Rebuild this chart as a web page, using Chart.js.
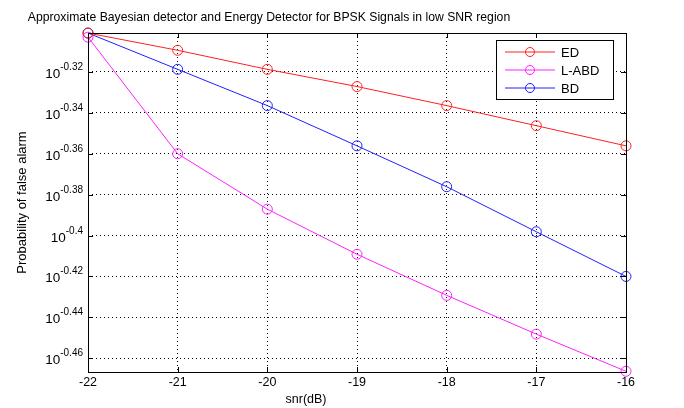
<!DOCTYPE html>
<html>
<head>
<meta charset="utf-8">
<script src="https://cdn.jsdelivr.net/npm/chart.js@4/dist/chart.umd.min.js"></script>
<style>
  html, body { margin: 0; padding: 0; background: #fff; }
  #wrap { width: 684px; height: 408px; }
</style>
</head>
<body>
<div id="wrap"><canvas id="pfaChart" width="684" height="408"></canvas></div>
<script>
// data
var snrDb = [-22, -21, -20, -19, -18, -17, -16];
var edPfa = [0.500, 0.4904, 0.4800, 0.4708, 0.4608, 0.4505, 0.4404];
var labdPfa = [0.4977, 0.4365, 0.4101, 0.3898, 0.3722, 0.3563, 0.3417];
var bdPfa = [0.500, 0.4800, 0.4608, 0.4404, 0.4206, 0.3998, 0.3802];
var yTickExp = [-0.32, -0.34, -0.36, -0.38, -0.4, -0.42, -0.44, -0.46];
var xTicks = [-22, -21, -20, -19, -18, -17, -16];
var seriesNames = ["ED", "L-ABD", "BD"];
var seriesColors = ["#ff2020", "#ff20ff", "#2020ff"];

function toPoints(vals) {
    return vals.map(function (v, i) { return { x: snrDb[i], y: v }; });
}

var FONT = "'Liberation Sans', Arial, sans-serif";

// labels, title, legend and inward ticks in MATLAB style
var matlabDeco = {
    id: "matlabDeco",
    afterDraw: function (chart) {
        var ctx = chart.ctx;
        var a = chart.chartArea;
        var xs = chart.scales.x, ys = chart.scales.y;
        ctx.save();

        // axes box
        ctx.strokeStyle = "#000";
        ctx.lineWidth = 1;
        ctx.strokeRect(Math.round(a.left) + 0.5, Math.round(a.top) + 0.5,
            Math.round(a.right - a.left), Math.round(a.bottom - a.top));

        // inward tick marks
        ctx.beginPath();
        xTicks.forEach(function (t) {
            var px = Math.round(xs.getPixelForValue(t)) + 0.5;
            ctx.moveTo(px, a.bottom); ctx.lineTo(px, a.bottom - 5);
            ctx.moveTo(px, a.top); ctx.lineTo(px, a.top + 5);
        });
        yTickExp.forEach(function (e) {
            var py = Math.round(ys.getPixelForValue(Math.pow(10, e))) + 0.5;
            ctx.moveTo(a.left, py); ctx.lineTo(a.left + 5, py);
            ctx.moveTo(a.right, py); ctx.lineTo(a.right - 5, py);
        });
        ctx.stroke();

        ctx.fillStyle = "#000";
        // x tick labels
        ctx.font = "12.5px " + FONT;
        ctx.textAlign = "center";
        ctx.textBaseline = "middle";
        xTicks.forEach(function (t) {
            ctx.fillText(String(t), xs.getPixelForValue(t), a.bottom + 11);
        });

        // y tick labels 10^e
        yTickExp.forEach(function (e) {
            var py = ys.getPixelForValue(Math.pow(10, e));
            var expTxt = String(e);
            ctx.font = "10px " + FONT;
            var ew = ctx.measureText(expTxt).width;
            ctx.textAlign = "left";
            ctx.textBaseline = "alphabetic";
            var ex = a.left - 5 - ew;
            ctx.fillText(expTxt, ex, py - 2);
            ctx.font = "13.5px " + FONT;
            ctx.textAlign = "right";
            ctx.fillText("10", ex, py + 6);
        });

        // title
        ctx.font = "12.2px " + FONT;
        ctx.textAlign = "center";
        ctx.textBaseline = "middle";
        ctx.fillText("Approximate Bayesian detector and Energy Detector for BPSK Signals in low SNR region", 269, 18);

        // axis titles
        ctx.font = "12.5px " + FONT;
        ctx.fillText("snr(dB)", 306, 400);
        ctx.save();
        ctx.translate(22, (a.top + a.bottom) / 2);
        ctx.rotate(-Math.PI / 2);
        ctx.font = "13px " + FONT;
        ctx.fillText("Probability of false alarm", 0, 0);
        ctx.restore();

        // legend box
        var lx = 496, ly = 40, lw = 117, lh = 59;
        ctx.fillStyle = "#fff";
        ctx.fillRect(lx, ly, lw, lh);
        ctx.strokeStyle = "#000";
        ctx.strokeRect(lx + 0.5, ly + 0.5, lw, lh);
        seriesNames.forEach(function (name, i) {
            var yy = 52 + i * 18;
            ctx.strokeStyle = seriesColors[i];
            ctx.beginPath();
            ctx.moveTo(505, yy); ctx.lineTo(555, yy);
            ctx.stroke();
            ctx.beginPath();
            ctx.arc(530, yy, 4.5, 0, Math.PI * 2);
            ctx.stroke();
            ctx.fillStyle = "#000";
            ctx.font = "13px " + FONT;
            ctx.textAlign = "left";
            ctx.fillText(name, 561, yy + 1);
        });

        ctx.restore();
    }
};

var datasets = [edPfa, labdPfa, bdPfa].map(function (vals, i) {
    return {
        label: seriesNames[i],
        data: toPoints(vals),
        borderColor: seriesColors[i],
        backgroundColor: "rgba(0,0,0,0)",
        borderWidth: 1,
        pointRadius: 5,
        pointBorderWidth: 1,
        pointBorderColor: seriesColors[i],
        pointBackgroundColor: "rgba(0,0,0,0)",
        tension: 0,
        clip: false,
    };
});

new Chart(document.getElementById("pfaChart").getContext("2d"), {
    type: "line",
    data: { datasets: datasets },
    options: {
        responsive: false,
        animation: false,
        layout: { padding: { left: 88, right: 58, top: 33, bottom: 36 } },
        plugins: {
            legend: { display: false },
            title: { display: false },
            tooltip: { enabled: false },
        },
        scales: {
            x: {
                type: "linear",
                bounds: "data",
                min: -22,
                max: -16,
                afterBuildTicks: function (scale) {
                    scale.ticks = xTicks.map(function (t) { return { value: t }; });
                },
                ticks: { display: false },
                border: { display: false, dash: [1, 3] },
                grid: { color: "#000", drawTicks: false, tickLength: 0 },
            },
            y: {
                type: "logarithmic",
                bounds: "data",
                min: Math.pow(10, -0.4667),
                max: Math.pow(10, -0.301),
                afterBuildTicks: function (scale) {
                    scale.ticks = yTickExp.map(function (e) { return { value: Math.pow(10, e) }; });
                },
                ticks: { display: false },
                border: { display: false, dash: [1, 3] },
                grid: { color: "#000", drawTicks: false, tickLength: 0 },
            },
        },
    },
    plugins: [matlabDeco],
});
</script>
</body>
</html>
